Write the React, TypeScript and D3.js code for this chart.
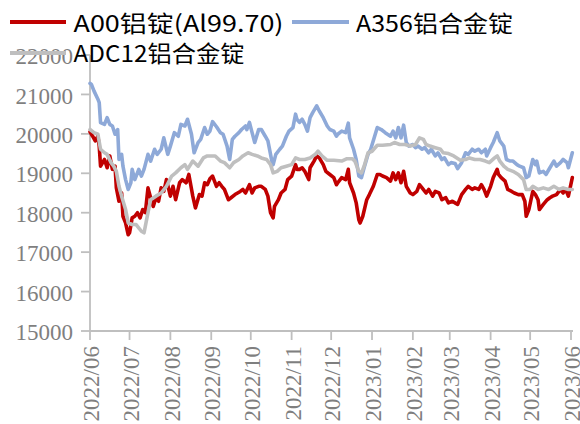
import React from "react";
import * as d3 from "d3";

const W = 580;
const H = 424;

const yTicks = [15000, 16000, 17000, 18000, 19000, 20000, 21000, 22000];
const xTickDates = [
  "2022-06-01","2022-07-01","2022-08-01","2022-09-01","2022-10-01","2022-11-01","2022-12-01",
  "2023-01-01","2023-02-01","2023-03-01","2023-04-01","2023-05-01","2023-06-01",
];

const seriesNames = ["A00铝锭(Al99.70)", "A356铝合金锭", "ADC12铝合金锭"];
const seriesColors = ["#C00000", "#8EA9D8", "#BFBFBF"];

const redDates = [
  "2022-06-01","2022-06-03","2022-06-05","2022-06-07","2022-06-08","2022-06-09","2022-06-12","2022-06-14","2022-06-16","2022-06-18",
  "2022-06-20","2022-06-21","2022-06-23","2022-06-25","2022-06-26","2022-06-28","2022-06-30","2022-07-01","2022-07-03","2022-07-05",
  "2022-07-07","2022-07-09","2022-07-11","2022-07-13","2022-07-15","2022-07-17","2022-07-19","2022-07-21","2022-07-23","2022-07-25",
  "2022-07-27","2022-07-29","2022-08-01","2022-08-03","2022-08-05","2022-08-08","2022-08-10","2022-08-13","2022-08-15","2022-08-18",
  "2022-08-20","2022-08-23","2022-08-25","2022-08-27","2022-08-29","2022-08-31","2022-09-02","2022-09-05","2022-09-07","2022-09-09",
  "2022-09-11","2022-09-14","2022-09-16","2022-09-19","2022-09-23","2022-09-25","2022-09-27","2022-09-30","2022-10-02","2022-10-04",
  "2022-10-07","2022-10-09","2022-10-12","2022-10-14","2022-10-16","2022-10-18","2022-10-19","2022-10-22","2022-10-24","2022-10-27",
  "2022-10-29","2022-11-01","2022-11-04","2022-11-05","2022-11-07","2022-11-09","2022-11-11","2022-11-14","2022-11-15","2022-11-18",
  "2022-11-20","2022-11-22","2022-11-25","2022-11-27","2022-11-30","2022-12-03","2022-12-05","2022-12-06","2022-12-09","2022-12-12",
  "2022-12-14","2022-12-15","2022-12-18","2022-12-20","2022-12-22","2022-12-23","2022-12-25","2022-12-28","2022-12-30","2023-01-02",
  "2023-01-05","2023-01-07","2023-01-09","2023-01-12","2023-01-15","2023-01-17","2023-01-19","2023-01-21","2023-01-23","2023-01-25",
  "2023-01-27","2023-01-30","2023-02-01","2023-02-04","2023-02-06","2023-02-08","2023-02-11","2023-02-13","2023-02-16","2023-02-18",
  "2023-02-21","2023-02-23","2023-02-26","2023-02-28","2023-03-03","2023-03-05","2023-03-07","2023-03-10","2023-03-13","2023-03-15",
  "2023-03-18","2023-03-20","2023-03-23","2023-03-25","2023-03-27","2023-03-29","2023-04-01","2023-04-03","2023-04-06","2023-04-07",
  "2023-04-09","2023-04-12","2023-04-14","2023-04-17","2023-04-19","2023-04-22","2023-04-25","2023-04-27","2023-04-28","2023-04-30",
  "2023-05-03","2023-05-05","2023-05-07","2023-05-08","2023-05-11","2023-05-14","2023-05-16","2023-05-18","2023-05-21","2023-05-24",
  "2023-05-26","2023-05-28","2023-05-30","2023-06-02",
];
const redValues = [
  20050,19940,19820,19940,19690,19180,19350,19140,19440,19100,
  19180,18630,18290,18500,17910,17740,17440,17490,17870,17910,
  18000,17870,18080,18000,18630,18380,18160,18380,18290,18630,
  18540,18840,18420,18670,18330,18760,18840,18760,18970,18420,
  18120,18460,18420,18760,18710,18860,18930,18670,18760,18670,
  18590,18330,18380,18460,18540,18590,18500,18710,18500,18630,
  18670,18670,18590,18420,18000,17870,18160,18330,18500,18590,
  18840,18930,19220,19100,19100,19140,19050,18840,19140,19310,
  19440,19390,19220,19050,18970,18890,18710,18760,18890,18840,
  19100,18760,18500,18250,17820,17740,17910,18330,18460,18670,
  18970,18970,18930,18890,18800,19010,18840,19010,18760,19050,
  18670,18500,18460,18540,18710,18630,18500,18590,18420,18540,
  18500,18330,18380,18250,18290,18250,18210,18460,18590,18670,
  18590,18630,18590,18710,18590,18420,18670,18890,19100,18970,
  18890,18800,18590,18540,18500,18460,18460,18290,17910,18080,
  18540,18460,18330,18080,18210,18330,18380,18420,18460,18590,
  18500,18590,18420,18890,
];

const blueDates = [
  "2022-06-01","2022-06-02","2022-06-04","2022-06-07","2022-06-08","2022-06-09","2022-06-12","2022-06-14","2022-06-16","2022-06-18",
  "2022-06-20","2022-06-22","2022-06-23","2022-06-25","2022-06-26","2022-06-28","2022-06-30","2022-07-02","2022-07-03","2022-07-05",
  "2022-07-08","2022-07-10","2022-07-12","2022-07-15","2022-07-17","2022-07-20","2022-07-22","2022-07-25","2022-07-27","2022-07-30",
  "2022-08-01","2022-08-04","2022-08-07","2022-08-09","2022-08-12","2022-08-14","2022-08-17","2022-08-19","2022-08-22","2022-08-24",
  "2022-08-27","2022-08-29","2022-08-31","2022-09-02","2022-09-05","2022-09-08","2022-09-10","2022-09-13","2022-09-15","2022-09-17",
  "2022-09-19","2022-09-22","2022-09-24","2022-09-27","2022-09-28","2022-09-30","2022-10-02","2022-10-04","2022-10-07","2022-10-09",
  "2022-10-12","2022-10-14","2022-10-17","2022-10-18","2022-10-20","2022-10-23","2022-10-25","2022-10-28","2022-10-30","2022-11-02",
  "2022-11-04","2022-11-05","2022-11-07","2022-11-09","2022-11-11","2022-11-13","2022-11-15","2022-11-17","2022-11-20","2022-11-22",
  "2022-11-25","2022-11-28","2022-11-30","2022-12-03","2022-12-05","2022-12-06","2022-12-09","2022-12-12","2022-12-14","2022-12-15",
  "2022-12-18","2022-12-20","2022-12-22","2022-12-24","2022-12-26","2022-12-29","2022-12-31","2023-01-03","2023-01-05","2023-01-08",
  "2023-01-11","2023-01-15","2023-01-17","2023-01-19","2023-01-21","2023-01-23","2023-01-25","2023-01-27","2023-01-29","2023-02-01",
  "2023-02-03","2023-02-05","2023-02-08","2023-02-10","2023-02-13","2023-02-15","2023-02-18","2023-02-20","2023-02-23","2023-02-25",
  "2023-02-28","2023-03-02","2023-03-05","2023-03-07","2023-03-10","2023-03-13","2023-03-15","2023-03-18","2023-03-20","2023-03-23",
  "2023-03-25","2023-03-28","2023-03-29","2023-04-01","2023-04-03","2023-04-06","2023-04-08","2023-04-11","2023-04-13","2023-04-16",
  "2023-04-18","2023-04-21","2023-04-23","2023-04-26","2023-04-28","2023-04-30","2023-05-03","2023-05-05","2023-05-06","2023-05-08",
  "2023-05-11","2023-05-13","2023-05-16","2023-05-19","2023-05-21","2023-05-24","2023-05-26","2023-05-29","2023-05-30","2023-06-02",
];
const blueValues = [
  21280,21260,21090,20880,20790,20285,20240,20410,20240,20200,
  19990,20110,19350,19480,19180,18840,18590,18760,19100,18840,
  19100,18930,19100,19480,19310,19610,19480,19610,19900,19480,
  19690,20030,19940,20240,20200,20370,19990,19520,19780,19860,
  20160,19990,20070,20310,20180,20030,19990,19690,19350,19860,
  19940,20030,20110,20200,20110,20290,20030,19780,20110,20110,
  19940,19820,19310,19220,19480,19610,19690,19940,20070,20160,
  20500,20370,20290,20370,20240,20070,20410,20540,20710,20580,
  20410,20200,20110,20070,19940,19990,20070,20030,20270,19900,
  19610,19350,18930,18890,19140,19480,19610,19940,20160,20110,
  20030,19940,20070,19900,20160,19900,20220,19780,19690,19730,
  19650,19690,19610,19650,19520,19610,19440,19520,19350,19390,
  19220,19270,19250,19120,19270,19520,19480,19610,19560,19610,
  19520,19610,19440,19650,19780,20030,19820,19690,19350,19310,
  19310,19220,19180,19140,18890,18930,19350,19220,19310,19010,
  19050,18970,19140,19310,19180,19270,19350,19270,19140,19520,
];

const grayDates = [
  "2022-06-01","2022-06-04","2022-06-07","2022-06-09","2022-06-12","2022-06-14","2022-06-17","2022-06-19","2022-06-21","2022-06-23",
  "2022-06-25","2022-06-28","2022-06-30","2022-07-03","2022-07-06","2022-07-10","2022-07-12","2022-07-15","2022-07-17","2022-07-21",
  "2022-07-25","2022-07-29","2022-08-02","2022-08-05","2022-08-09","2022-08-12","2022-08-14","2022-08-18","2022-08-22","2022-08-26",
  "2022-08-29","2022-09-04","2022-09-08","2022-09-11","2022-09-15","2022-09-18","2022-09-22","2022-09-25","2022-09-29","2022-10-02",
  "2022-10-06","2022-10-09","2022-10-13","2022-10-16","2022-10-18","2022-10-21","2022-10-24","2022-10-28","2022-11-01","2022-11-04",
  "2022-11-07","2022-11-11","2022-11-15","2022-11-19","2022-11-21","2022-11-24","2022-11-28","2022-12-03","2022-12-09","2022-12-13",
  "2022-12-17","2022-12-19","2022-12-22","2022-12-24","2022-12-26","2022-12-29","2023-01-01","2023-01-05","2023-01-09","2023-01-15",
  "2023-01-18","2023-01-22","2023-01-26","2023-01-30","2023-02-03","2023-02-06","2023-02-09","2023-02-11","2023-02-14","2023-02-18",
  "2023-02-22","2023-02-24","2023-02-28","2023-03-04","2023-03-09","2023-03-13","2023-03-16","2023-03-20","2023-03-24","2023-03-28",
  "2023-03-31","2023-04-04","2023-04-06","2023-04-08","2023-04-11","2023-04-14","2023-04-18","2023-04-22","2023-04-26","2023-04-28",
  "2023-05-01","2023-05-03","2023-05-07","2023-05-11","2023-05-15","2023-05-19","2023-05-23","2023-05-26","2023-05-30","2023-06-02",
];
const grayValues = [
  20110,20030,19990,19610,19520,19480,19270,19180,19050,18670,
  18420,18080,17740,17700,17700,17530,17490,18000,18330,18420,
  18500,18670,18930,19010,19140,19220,19100,19310,19180,19390,
  19440,19440,19310,19270,19140,19270,19350,19440,19520,19480,
  19440,19390,19350,19220,19010,19050,19140,19180,19220,19390,
  19350,19350,19390,19480,19560,19440,19330,19330,19310,19370,
  19370,19310,19050,19010,19180,19520,19560,19710,19710,19730,
  19780,19730,19730,19690,19730,19900,19860,19730,19690,19650,
  19610,19520,19500,19440,19330,19350,19390,19350,19350,19310,
  19270,19390,19440,19310,19180,19100,19050,18970,18840,18590,
  18590,18670,18590,18630,18590,18670,18590,18630,18590,18590,
];

const parse = d3.timeParse("%Y-%m-%d");
const fmt = d3.timeFormat("%Y/%m");

const x = d3.scaleTime()
  .domain([parse("2022-06-01") as Date, parse("2023-06-01") as Date])
  .range([90, 571]);
const y = d3.scaleLinear().domain([15000, 22000]).range([331, 55]);

const makeSeries = (dates: string[], values: number[]) =>
  dates.map((d, i) => ({ date: parse(d) as Date, value: values[i] }));

const series = [
  makeSeries(redDates, redValues),
  makeSeries(blueDates, blueValues),
  makeSeries(grayDates, grayValues),
];

const line = d3.line<{ date: Date; value: number }>()
  .x((d) => x(d.date))
  .y((d) => y(d.value));

const axisColor = "#BFBFBF";
const labelColor = "#7F7F7F";
const serif =
  '"Liberation Serif", "Times New Roman", Times, Tinos, "DejaVu Serif", "Noto Serif", "Noto Serif CJK SC", FreeSerif, serif';
const cjk = '"Noto Sans CJK SC", "Noto Sans", sans-serif';

export default function App() {
  const x0 = x.range()[0];
  const y0 = y(15000);
  return (
    <svg width={W} height={H} style={{ position: "absolute", left: 0, top: 0, background: "#fff" }}>
      <rect x={0} y={0} width={W} height={H} fill="#fff" />
      {/* Y axis */}
      <line x1={x0} x2={x0} y1={y(22000)} y2={y0} stroke={axisColor} strokeWidth={1.8} />
      {yTicks.map((t) => (
        <g key={t}>
          <line x1={x0 - 9} x2={x0} y1={y(t)} y2={y(t)} stroke={axisColor} strokeWidth={1.8} />
          <text x={73} y={y(t)} dy="0.4em" textAnchor="end" fontFamily={serif} fontSize={23} fill={labelColor}>
            {t}
          </text>
        </g>
      ))}
      {/* X axis */}
      <line x1={x0} x2={573} y1={y0} y2={y0} stroke={axisColor} strokeWidth={1.8} />
      {xTickDates.map((ds) => {
        const d = parse(ds) as Date;
        const xp = x(d);
        return (
          <g key={ds}>
            <line x1={xp} x2={xp} y1={y0} y2={y0 + 9} stroke={axisColor} strokeWidth={1.8} />
            <text
              transform={`translate(${xp},346) rotate(-90)`}
              dy="0.4em"
              textAnchor="end"
              fontFamily={serif}
              fontSize={23}
              fill={labelColor}
            >
              {fmt(d)}
            </text>
          </g>
        );
      })}
      {/* Lines */}
      {series.map((s, i) => (
        <path
          key={i}
          d={line(s) || ""}
          fill="none"
          stroke={seriesColors[i]}
          strokeWidth={3.6}
          strokeLinejoin="round"
          strokeLinecap="round"
        />
      ))}
      {/* Legend */}
      <line x1={10} x2={66} y1={22} y2={22} stroke={seriesColors[0]} strokeWidth={4} />
      <text x={73.5} y={32} fontFamily={cjk} fontSize={23} fill="#000" textLength={210} lengthAdjust="spacingAndGlyphs">
        {seriesNames[0]}
      </text>
      <line x1={292} x2={349} y1={22} y2={22} stroke={seriesColors[1]} strokeWidth={4} />
      <text x={356} y={32} fontFamily={cjk} fontSize={23} fill="#000" textLength={157} lengthAdjust="spacingAndGlyphs">
        {seriesNames[1]}
      </text>
      <line x1={10} x2={66} y1={53} y2={53} stroke={seriesColors[2]} strokeWidth={4} />
      <text x={73.5} y={62} fontFamily={cjk} fontSize={23} fill="#000" textLength={171} lengthAdjust="spacingAndGlyphs">
        {seriesNames[2]}
      </text>
    </svg>
  );
}
